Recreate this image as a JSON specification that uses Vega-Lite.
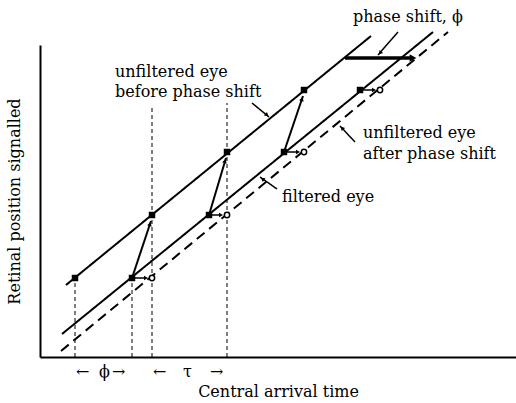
{
  "$schema": "https://vega.github.io/schema/vega-lite/v6.json",
  "width": 476,
  "height": 312,
  "autosize": "none",
  "padding": {"left": 40, "top": 45, "right": 0, "bottom": 46},
  "background": "white",
  "config": {
    "view": {"stroke": null},
    "axis": {"grid": false, "ticks": false, "labels": false, "domainColor": "black", "domainWidth": 2, "titleFont": "DejaVu Serif", "titleFontWeight": "normal", "titleFontSize": 16, "titleColor": "black"}
  },
  "datasets": {
    "lines": [
      {"s": "before", "x": 26, "y": 72}, {"s": "before", "x": 331, "y": 321},
      {"s": "filtered", "x": 22, "y": 23}, {"s": "filtered", "x": 393, "y": 325},
      {"s": "after", "x": 21, "y": 6}, {"s": "after", "x": 408, "y": 325}
    ],
    "vlines": [
      {"x": 35, "y": 0, "y2": 79}, {"x": 92, "y": 0, "y2": 79},
      {"x": 112, "y": 0, "y2": 249}, {"x": 187, "y": 0, "y2": 254}
    ],
    "rises": [
      {"x": 92, "y": 79, "x2": 111, "y2": 136},
      {"x": 169, "y": 142, "x2": 186, "y2": 199},
      {"x": 244, "y": 205, "x2": 263, "y2": 261}
    ],
    "shifts": [
      {"x": 95, "x2": 106, "y": 79}, {"x": 172, "x2": 181, "y": 142},
      {"x": 247, "x2": 258, "y": 205}, {"x": 323, "x2": 334, "y": 267}
    ],
    "pointers": [
      {"kind": "solid", "x": 212, "y": 254, "x2": 229, "y2": 240},
      {"kind": "solid", "x": 237, "y": 168, "x2": 220, "y2": 180},
      {"kind": "dashed", "x": 315, "y": 215, "x2": 300, "y2": 231},
      {"kind": "solid", "x": 358, "y": 325, "x2": 338, "y2": 302}
    ],
    "phase": [{"x": 305, "x2": 372, "y": 299}],
    "heads": [
      {"kind": "small", "x": 110, "y": 133, "angle": 18},
      {"kind": "small", "x": 185, "y": 196, "angle": 18},
      {"kind": "small", "x": 262, "y": 258, "angle": 18},
      {"kind": "small", "x": 106, "y": 79, "angle": 90},
      {"kind": "small", "x": 181, "y": 142, "angle": 90},
      {"kind": "small", "x": 258, "y": 205, "angle": 90},
      {"kind": "small", "x": 334, "y": 267, "angle": 90},
      {"kind": "small", "x": 227, "y": 242, "angle": 130},
      {"kind": "small", "x": 222.5, "y": 178, "angle": 305},
      {"kind": "small", "x": 302, "y": 229, "angle": 317},
      {"kind": "small", "x": 340, "y": 304, "angle": 221},
      {"kind": "big", "x": 373, "y": 299, "angle": 90}
    ],
    "filled": [
      {"x": 35, "y": 79}, {"x": 112, "y": 142}, {"x": 187, "y": 205}, {"x": 264, "y": 267},
      {"x": 92, "y": 79}, {"x": 169, "y": 142}, {"x": 244, "y": 205}, {"x": 320, "y": 267}
    ],
    "open": [
      {"x": 112, "y": 79}, {"x": 187, "y": 142}, {"x": 264, "y": 205}, {"x": 340, "y": 267}
    ],
    "texts": [
      {"text": "phase shift, ϕ", "x": 313, "y": 340},
      {"text": "unfiltered eye", "x": 75, "y": 285},
      {"text": "before phase shift", "x": 75, "y": 265},
      {"text": "unfiltered eye", "x": 323, "y": 224},
      {"text": "after phase shift", "x": 323, "y": 203},
      {"text": "filtered eye", "x": 242, "y": 160},
      {"text": "←", "x": 36, "y": -15},
      {"text": "ϕ", "x": 59, "y": -15},
      {"text": "→", "x": 72, "y": -15},
      {"text": "←", "x": 113, "y": -15},
      {"text": "τ", "x": 143, "y": -15},
      {"text": "→", "x": 170, "y": -15}
    ]
  },
  "encoding": {
    "x": {"field": "x", "type": "quantitative", "scale": {"domain": [0, 476], "nice": false, "zero": false}, "axis": {"title": "Central arrival time", "titlePadding": 26}},
    "y": {"field": "y", "type": "quantitative", "scale": {"domain": [0, 312], "nice": false, "zero": false}, "axis": {"title": "Retinal position signalled", "titlePadding": 18}}
  },
  "layer": [
    {"data": {"name": "vlines"}, "mark": {"type": "rule", "strokeDash": [4, 3], "strokeWidth": 1, "color": "black"}, "encoding": {"y2": {"field": "y2"}}},
    {"data": {"name": "lines"}, "mark": {"type": "line", "color": "black", "strokeWidth": 2},
     "encoding": {"detail": {"field": "s"}, "strokeDash": {"field": "s", "type": "nominal", "scale": {"domain": ["before", "filtered", "after"], "range": [[1, 0], [1, 0], [10, 6]]}, "legend": null}}},
    {"data": {"name": "rises"}, "mark": {"type": "rule", "strokeWidth": 2, "color": "black"}, "encoding": {"x2": {"field": "x2"}, "y2": {"field": "y2"}}},
    {"data": {"name": "shifts"}, "mark": {"type": "rule", "strokeWidth": 1.5, "color": "black"}, "encoding": {"x2": {"field": "x2"}}},
    {"data": {"name": "pointers"}, "mark": {"type": "rule", "strokeWidth": 1.5, "color": "black"},
     "encoding": {"x2": {"field": "x2"}, "y2": {"field": "y2"}, "strokeDash": {"field": "kind", "type": "nominal", "scale": {"domain": ["solid", "dashed"], "range": [[1, 0], [6, 3]]}, "legend": null}}},
    {"data": {"name": "phase"}, "mark": {"type": "rule", "strokeWidth": 3.5, "color": "black"}, "encoding": {"x2": {"field": "x2"}}},
    {"data": {"name": "heads"}, "mark": {"type": "point", "shape": "triangle-up", "filled": true, "color": "black", "opacity": 1},
     "encoding": {"angle": {"field": "angle", "type": "quantitative", "scale": null}, "size": {"field": "kind", "type": "nominal", "scale": {"domain": ["small", "big"], "range": [22, 60]}, "legend": null}}},
    {"data": {"name": "filled"}, "mark": {"type": "point", "shape": "square", "filled": true, "color": "black", "opacity": 1, "size": 42}},
    {"data": {"name": "open"}, "mark": {"type": "point", "shape": "circle", "filled": false, "fill": "white", "stroke": "black", "strokeWidth": 1.5, "opacity": 1, "size": 28}},
    {"data": {"name": "texts"}, "mark": {"type": "text", "align": "left", "baseline": "middle", "font": "DejaVu Serif", "fontSize": 16, "color": "black"},
     "encoding": {"text": {"field": "text"}}}
  ]
}
